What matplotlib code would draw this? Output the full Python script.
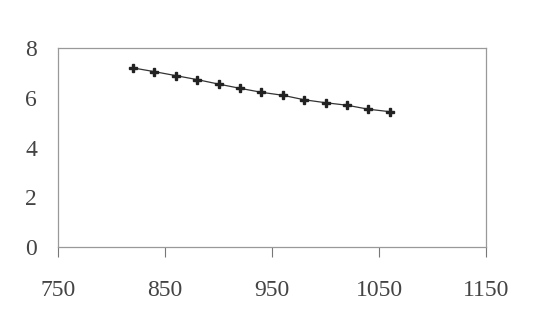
import matplotlib
matplotlib.use("Agg")
import matplotlib.pyplot as plt

# values
x_vals = [820, 840, 860, 880, 900, 920, 940, 960, 980, 1000, 1020, 1040, 1060]
y_vals = [7.2, 7.05, 6.89, 6.73, 6.55, 6.38, 6.22, 6.1, 5.92, 5.8, 5.7, 5.54, 5.44]
x_ticks = [750, 850, 950, 1050, 1150]
y_ticks = [0, 2, 4, 6, 8]

plt.rcParams["font.family"] = ["Liberation Serif", "DejaVu Serif"]

fig = plt.figure(figsize=(5.33, 3.22), dpi=100)
ax = fig.add_axes([58 / 533, 1 - 247 / 322, 428 / 533, 199 / 322])

ax.plot(x_vals, y_vals, color="#333333", lw=0.9, marker="P",
        markersize=6, markerfacecolor="#222222", markeredgecolor="#222222")

ax.set_xlim(750, 1150)
ax.set_ylim(0, 8)
ax.set_xticks(x_ticks)
ax.set_yticks(y_ticks)
ax.tick_params(axis="x", direction="out", length=7, color="#777777",
               labelsize=17, labelcolor="#444444", pad=17)
ax.tick_params(axis="y", length=0, labelsize=17, labelcolor="#444444", pad=15)
for sp in ax.spines.values():
    sp.set_color("#999999")
    sp.set_linewidth(0.9)

fig.savefig("out.png", dpi=100)
